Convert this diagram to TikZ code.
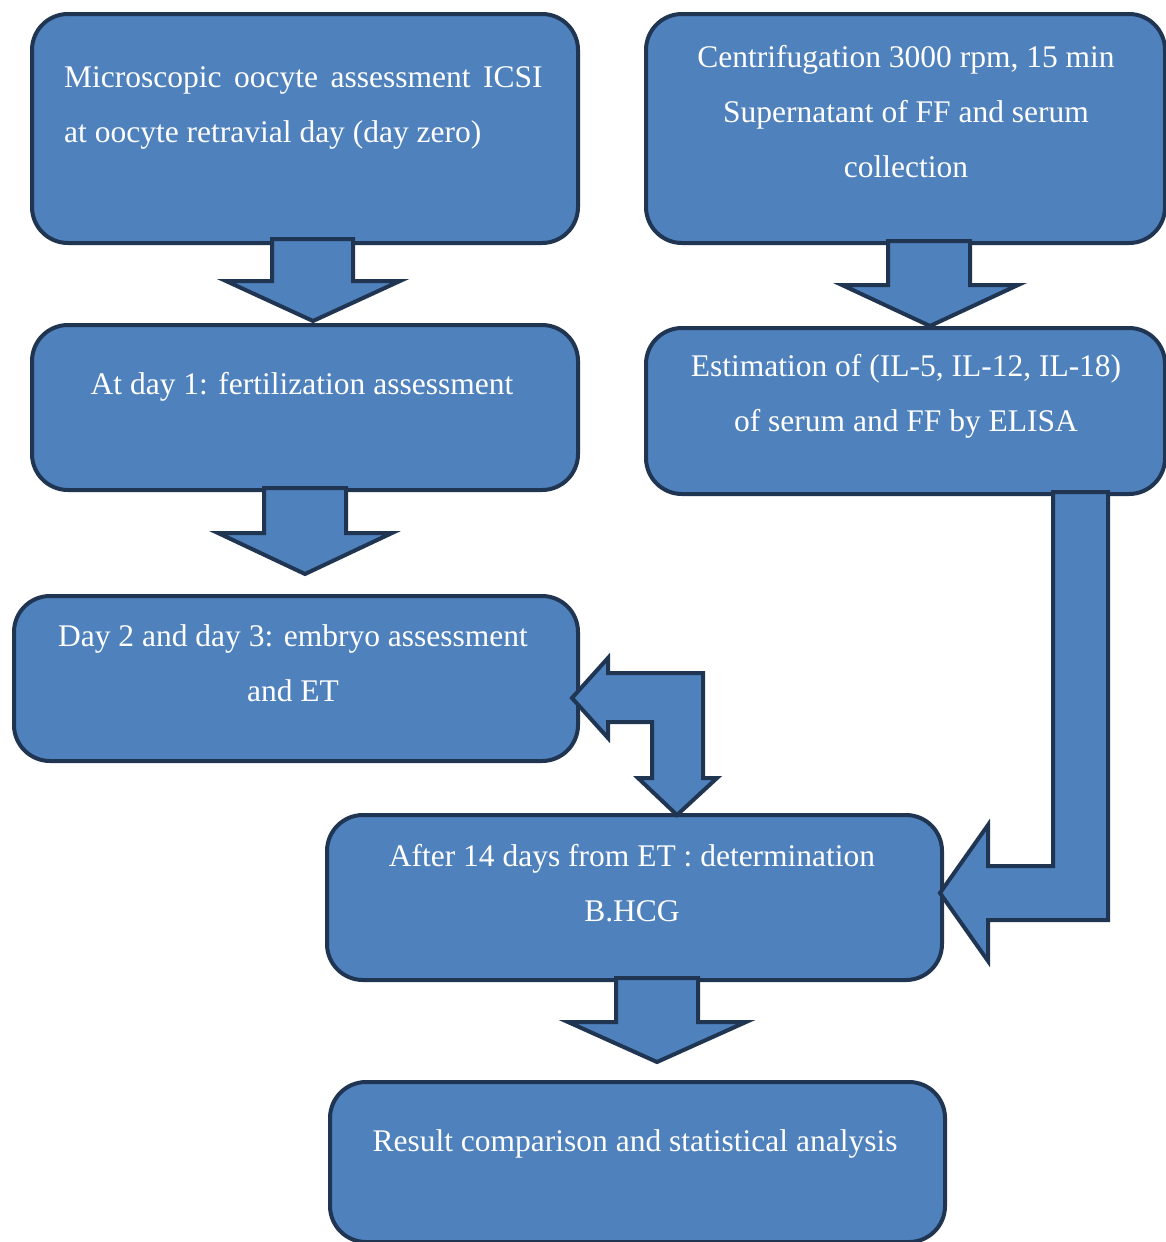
\documentclass[tikz,border=0pt]{standalone}
\usepackage{fontspec}
\setmainfont{Liberation Serif}
\definecolor{boxfill}{HTML}{4F81BD}
\definecolor{boxline}{HTML}{1F3552}
\begin{document}
\begin{tikzpicture}[x=1pt,y=-1pt,
  box/.style={draw=boxline, fill=boxfill, line width=4pt, rounded corners=36pt, anchor=north west, inner sep=0pt},
  blockarrow/.style={draw=boxline, fill=boxfill, line width=4pt, line join=miter},
  txt/.style={text=white, font=\fontsize{31.5}{55}\selectfont, align=center, inner sep=0pt}]
\useasboundingbox (0,0) rectangle (1166,1242);
% boxes
\node[box, minimum width=546pt, minimum height=229pt] (b1) at (30,12) {};
\node[box, minimum width=519pt, minimum height=229pt] (b2) at (644,12) {};
\node[box, minimum width=546pt, minimum height=165pt] (b3) at (30,323) {};
\node[box, minimum width=519pt, minimum height=166pt] (b4) at (644,326) {};
\node[box, minimum width=564pt, minimum height=165pt] (b5) at (12,594) {};
\node[box, minimum width=615pt, minimum height=165pt] (b6) at (325,813) {};
\node[box, minimum width=615pt, minimum height=160pt] (b7) at (328,1080) {};
% texts
\node[txt, align=left, anchor=west] (t1) at (64,108) {Microscopic\hskip 12.5pt oocyte\hskip 12.5pt assessment\hskip 12.5pt ICSI\\at oocyte retravial day (day zero)};
\node[txt] (t2) at (906,112) {Centrifugation 3000 rpm, 15 min\\Supernatant of FF and serum\\collection};
\node[txt] (t3) at (302,387) {At day 1: fertilization assessment};
\node[txt] (t4) at (906,396) {Estimation of (IL-5, IL-12, IL-18)\\of serum and FF by ELISA};
\node[txt] (t5) at (293,663) {Day 2 and day 3: embryo assessment\\and ET};
\node[txt] (t6) at (632,883) {After 14 days from ET : determination\\B.HCG};
\node[txt] (t7) at (635,1144) {Result comparison and statistical analysis};
% block arrows
\draw[blockarrow] (272,239) -- (353,239) -- (353,281) -- (400,281) -- (313,321) -- (226,281) -- (272,281) -- cycle;
\draw[blockarrow] (264,488) -- (346,488) -- (346,533) -- (392,533) -- (305,574) -- (218,533) -- (264,533) -- cycle;
\draw[blockarrow] (888,241) -- (970,241) -- (970,285) -- (1018,285) -- (930,326) -- (842,285) -- (888,285) -- cycle;
\draw[blockarrow] (616,978) -- (698,978) -- (698,1022) -- (746,1022) -- (657,1062) -- (568,1022) -- (616,1022) -- cycle;
\draw[blockarrow] (1053,492) -- (1108,492) -- (1108,920) -- (988,920) -- (988,961) -- (940,893) -- (988,825) -- (988,866) -- (1053,866) -- cycle;
\draw[blockarrow] (572,698) -- (608,658) -- (608,673) -- (703,673) -- (703,778) -- (717,778) -- (677,815) -- (638,778) -- (652,778) -- (652,722) -- (608,722) -- (608,738) -- cycle;
\end{tikzpicture}
\end{document}
